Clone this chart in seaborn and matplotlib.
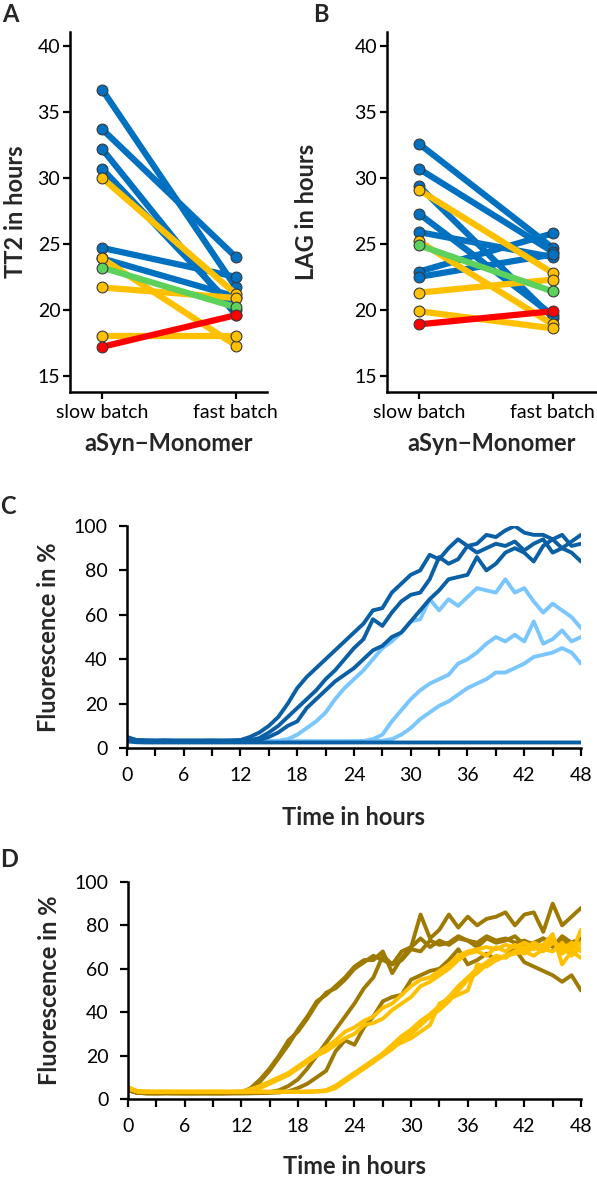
import numpy as np
import pandas as pd
import seaborn as sns
import matplotlib.pyplot as plt

# ---- Panel A / B: paired samples, slow batch -> fast batch ----
tt2_slow = [36.7, 33.7, 32.2, 30.7, 24.7, 23.9, 30.0, 23.9, 21.7, 18.0, 23.2, 17.2]
tt2_fast = [21.7, 24.0, 19.6, 20.0, 22.5, 21.0, 21.2, 17.3, 20.9, 18.0, 20.2, 19.6]
tt2_group = ['blue', 'blue', 'blue', 'blue', 'blue', 'blue',
             'yellow', 'yellow', 'yellow', 'yellow', 'green', 'red']

lag_slow = [32.6, 30.7, 29.4, 27.3, 25.9, 22.9, 22.5, 29.1, 25.2, 21.3, 19.9, 24.9, 18.9]
lag_fast = [24.7, 24.4, 19.4, 19.6, 24.0, 25.8, 24.2, 22.8, 18.9, 22.3, 18.6, 21.4, 19.9]
lag_group = ['blue', 'blue', 'blue', 'blue', 'blue', 'blue', 'blue',
             'yellow', 'yellow', 'yellow', 'yellow', 'green', 'red']

batch_labels = ['slow batch', 'fast batch']
group_colors = {'blue': '#0070C0', 'yellow': '#FFC000', 'green': '#5CD25C', 'red': '#FF0000'}

# ---- Panel C / D: fluorescence kinetics, hourly ----
hours = np.arange(0, 49)

c_dark1 = [5.0, 3.6, 3.4, 3.3, 3.4, 3.3, 3.3, 3.3, 3.3, 3.4, 3.3, 3.4, 3.6,
           5, 7, 10, 14, 20, 27, 32, 36, 40, 44, 48, 52, 56, 62, 63, 70, 74,
           78, 80, 87, 85, 90, 94, 91, 92, 96, 95, 98, 100, 97, 96, 96, 94, 96, 91, 92]
c_dark2 = [4.6, 3.5, 3.4, 3.3, 3.4, 3.3, 3.3, 3.3, 3.3, 3.3, 3.3, 3.3, 3.4, 3.5,
           4.5, 7, 10, 14, 18, 22, 26, 31, 35, 40, 45, 49, 58, 55, 61, 66,
           69, 70, 76, 86, 83, 85, 91, 88, 90, 92, 91, 93, 89, 92, 94, 88, 90, 93, 96]
c_dark3 = [4.4, 3.4, 3.3, 3.3, 3.3, 3.3, 3.3, 3.3, 3.3, 3.3, 3.3, 3.3, 3.3, 3.4, 3.6,
           5, 7, 10, 12, 18, 22, 26, 30, 33, 36, 40, 44, 46, 50, 52,
           57, 62, 67, 71, 76, 77, 78, 86, 80, 83, 88, 90, 88, 84, 91, 94, 90, 88, 84]
c_light1 = [4.0, 3.2, 3.1, 3.1, 3.1, 3.1, 3.1, 3.1, 3.1, 3.1, 3.1, 3.1, 3.1, 3.1, 3.1, 3.2, 3.3,
            4, 6, 9, 12, 16, 22, 27, 31, 35, 40, 45, 48, 52, 57, 58, 67, 62, 67, 64,
            68, 72, 71, 70, 76, 70, 72, 66, 61, 65, 62, 59, 54]
c_light2 = [3.8, 3.0, 3.0, 3.0, 3.0, 3.0, 3.0, 3.0, 3.0, 3.0, 3.0, 3.0, 3.0, 3.0, 3.0, 3.0,
            3.0, 3.0, 3.0, 3.0, 3.0, 3.0, 3.0, 3.0, 3.1, 3.2,
            4, 6, 12, 17, 22, 26, 29, 31, 33, 38, 40, 43, 47, 50, 48, 51, 48, 57, 47, 49, 53, 48, 50]
c_light3 = [3.8, 3.0, 3.0, 3.0, 3.0, 3.0, 3.0, 3.0, 3.0, 3.0, 3.0, 3.0, 3.0, 3.0, 3.0, 3.0,
            3.0, 3.0, 3.0, 3.0, 3.0, 3.0, 3.0, 3.0, 3.0, 3.0, 3.1, 3.3,
            4, 6, 9, 13, 16, 19, 21, 24, 27, 29, 31, 34, 34, 36, 38, 41, 42, 43, 45, 43, 38]
c_flat = [3.0, 2.6, 2.5, 2.5, 2.5, 2.5, 2.5, 2.5, 2.5, 2.5, 2.5, 2.5, 2.5, 2.5, 2.5, 2.5, 2.5,
          2.5, 2.5, 2.5, 2.5, 2.5, 2.5, 2.5, 2.5, 2.5, 2.5, 2.5, 2.5, 2.5, 2.5, 2.5, 2.5,
          2.5, 2.5, 2.5, 2.5, 2.5, 2.5, 2.5, 2.5, 2.5, 2.5, 2.5, 2.5, 2.5, 2.5, 2.5, 2.5]

d_dark1 = [4.0, 2.8, 2.6, 2.6, 2.7, 2.6, 2.6, 2.6, 2.6, 2.6, 2.6, 2.7,
           3, 5, 9, 14, 20, 27, 31, 37, 44, 49, 51, 55, 60, 63, 66, 64, 62, 68,
           70, 74, 70, 73, 71, 74, 73, 72, 75, 73, 74, 72, 73, 71, 74, 72, 73, 71, 72]
d_dark2 = [4.2, 2.9, 2.7, 2.6, 2.7, 2.7, 2.6, 2.6, 2.7, 2.6, 2.6, 2.7,
           3, 4.5, 8, 13, 19, 25, 32, 38, 45, 48, 52, 56, 61, 64, 64, 68, 58, 65,
           70, 85, 74, 78, 85, 79, 84, 80, 83, 84, 86, 80, 85, 86, 77, 90, 80, 84, 88]
d_dark3 = [4.0, 2.8, 2.6, 2.6, 2.6, 2.6, 2.6, 2.6, 2.6, 2.6, 2.6, 2.6, 2.6, 2.7, 2.8,
           3.2, 4, 6, 9, 14, 20, 26, 32, 38, 44, 51, 56, 66, 62, 64,
           69, 68, 73, 71, 72, 75, 73, 70, 74, 72, 73, 75, 71, 72, 74, 70, 75, 72, 74]
d_dark4 = [4.0, 2.8, 2.6, 2.6, 2.6, 2.6, 2.6, 2.6, 2.6, 2.6, 2.6, 2.6, 2.6, 2.6, 2.7, 2.8, 3.0,
           3.5, 5, 7, 10, 13, 22, 27, 25, 33, 38, 45, 47, 48, 55, 57, 59, 60, 64, 69,
           62, 64, 67, 64, 66, 69, 63, 61, 59, 57, 54, 57, 50]
d_yel1 = [5.5, 3.6, 3.4, 3.3, 3.4, 3.3, 3.3, 3.3, 3.3, 3.4, 3.3, 3.3,
          3.5, 4.5, 6, 8, 10, 12, 15, 18, 21, 24, 27, 31, 33, 36, 38, 42, 44, 48,
          52, 55, 56, 59, 62, 66, 68, 69, 70, 69, 71, 70, 72, 70, 71, 73, 69, 72, 68]
d_yel2 = [5.2, 3.5, 3.3, 3.3, 3.3, 3.3, 3.3, 3.3, 3.3, 3.3, 3.3, 3.3,
          3.3, 4, 5, 7, 9, 11, 14, 17, 20, 22, 25, 28, 30, 34, 35, 37, 41, 44,
          47, 52, 54, 57, 60, 64, 67, 68, 66, 70, 68, 71, 69, 72, 70, 74, 67, 70, 72]
d_yel3 = [5.0, 3.5, 3.3, 3.3, 3.3, 3.3, 3.3, 3.3, 3.3, 3.3, 3.3, 3.3, 3.3, 3.3, 3.3, 3.3,
          3.3, 3.3, 3.3, 3.4,
          3.6, 4, 6, 9, 12, 14, 17, 20, 23, 27, 30, 34, 38, 41, 45, 50, 55, 58, 62, 64,
          66, 67, 68, 66, 69, 68, 72, 67, 78]
d_yel4 = [5.0, 3.5, 3.3, 3.3, 3.3, 3.3, 3.3, 3.3, 3.3, 3.3, 3.3, 3.3, 3.3, 3.3, 3.3, 3.3,
          3.3, 3.3, 3.3, 3.3, 3.4,
          3.6, 5, 8, 11, 14, 17, 21, 25, 29, 32, 36, 39, 43, 47, 52, 56, 60, 63, 66,
          65, 68, 70, 69, 71, 76, 62, 68, 65]
d_yel5 = [4.8, 3.4, 3.3, 3.3, 3.3, 3.3, 3.3, 3.3, 3.3, 3.3, 3.3, 3.3, 3.3, 3.3, 3.3, 3.3,
          3.3, 3.3, 3.3, 3.3, 3.4,
          4, 6, 9, 12, 15, 18, 21, 24, 26, 28, 31, 34, 44, 46, 48, 50, 62, 61, 64,
          66, 68, 67, 70, 68, 72, 70, 66, 70]

c_light, c_dark = '#7AC6FF', '#0A5FA5'
d_dark, d_light = '#9E7A00', '#FFC000'

sns.set_style('ticks')
plt.rcParams['font.family'] = ['Lato', 'DejaVu Sans']
plt.rcParams['axes.linewidth'] = 1.8
plt.rcParams['axes.edgecolor'] = 'black'

TICK_SIZE = 14
LABEL_SIZE = 17


def paired_frame(slow, fast, groups):
    rows = []
    for i, (s, f, g) in enumerate(zip(slow, fast, groups)):
        rows.append({'sample': f's{i}', 'batch': 0, 'value': s, 'group': g})
        rows.append({'sample': f's{i}', 'batch': 1, 'value': f, 'group': g})
    return pd.DataFrame(rows)


def curve_frame(curves):
    parts = []
    for name, vals in curves.items():
        parts.append(pd.DataFrame({'time': hours, 'value': vals, 'curve': name}))
    return pd.concat(parts, ignore_index=True)


def draw_paired(ax, slow, fast, groups, ylabel, xmax):
    df = paired_frame(slow, fast, groups)
    pal = {f's{i}': group_colors[g] for i, g in enumerate(groups)}
    sns.lineplot(data=df, x='batch', y='value', hue='sample', palette=pal,
                 estimator=None, sort=False, legend=False, ax=ax,
                 linewidth=4.5, marker='o', markersize=7.8,
                 markeredgecolor='#3a3a3a', markeredgewidth=0.8)
    ax.set_xlim(-0.24, xmax)
    ax.set_ylim(13.8, 41.06)
    ax.set_yticks([15, 20, 25, 30, 35, 40])
    ax.set_xticks([0, 1])
    ax.set_xticklabels(batch_labels)
    ax.tick_params(axis='both', labelsize=TICK_SIZE, length=5, width=1.6, pad=2, colors='black')
    ax.tick_params(axis='x', pad=4)
    ax.set_xlabel('aSyn\u2212Monomer', fontsize=LABEL_SIZE, fontweight='bold')
    ax.set_ylabel(ylabel, fontsize=LABEL_SIZE, fontweight='bold')
    sns.despine(ax=ax)


def draw_kinetics(ax, curves, palette):
    df = curve_frame(curves)
    sns.lineplot(data=df, x='time', y='value', hue='curve', palette=palette,
                 estimator=None, legend=False, ax=ax, linewidth=2.8)
    ax.set_xlim(0, 48)
    ax.set_ylim(0, 100)
    ax.set_xticks(range(0, 49, 3))
    ax.set_xticklabels([str(t) if t % 6 == 0 else '' for t in range(0, 49, 3)])
    ax.set_yticks(range(0, 101, 20))
    ax.tick_params(axis='both', labelsize=TICK_SIZE, length=6, width=1.6, colors='black')
    ax.tick_params(axis='x', pad=8)
    ax.tick_params(axis='y', pad=8)
    ax.set_xlabel('Time in hours', fontsize=LABEL_SIZE, fontweight='bold')
    ax.set_ylabel('Fluorescence in %', fontsize=LABEL_SIZE, fontweight='bold')
    sns.despine(ax=ax)


fig = plt.figure(figsize=(5.97, 11.78), dpi=100)
ax_a = fig.add_axes([0.1173, 0.6675, 0.3293, 0.3053])
ax_b = fig.add_axes([0.6477, 0.6675, 0.3500, 0.3053])
ax_c = fig.add_axes([0.2127, 0.3650, 0.7605, 0.1885])
ax_d = fig.add_axes([0.2144, 0.0671, 0.7588, 0.1842])

draw_paired(ax_a, tt2_slow, tt2_fast, tt2_group, 'TT2 in hours', 1.23)
draw_paired(ax_b, lag_slow, lag_fast, lag_group, 'LAG in hours', 1.32)
ax_a.xaxis.set_label_coords(0.5, -0.112)
ax_b.xaxis.set_label_coords(0.5, -0.112)
ax_a.yaxis.set_label_coords(-0.22, 0.5)
ax_b.yaxis.set_label_coords(-0.33, 0.5)

draw_kinetics(ax_c, {'l1': c_light1, 'l2': c_light2, 'l3': c_light3,
                     'k1': c_dark1, 'k2': c_dark2, 'k3': c_dark3, 'k0': c_flat},
              {'l1': c_light, 'l2': c_light, 'l3': c_light,
               'k1': c_dark, 'k2': c_dark, 'k3': c_dark, 'k0': c_dark})
draw_kinetics(ax_d, {'k1': d_dark1, 'k2': d_dark2, 'k3': d_dark3, 'k4': d_dark4,
                     'y1': d_yel1, 'y2': d_yel2, 'y3': d_yel3, 'y4': d_yel4, 'y5': d_yel5},
              {'k1': d_dark, 'k2': d_dark, 'k3': d_dark, 'k4': d_dark,
               'y1': d_light, 'y2': d_light, 'y3': d_light, 'y4': d_light, 'y5': d_light})
for ax in (ax_c, ax_d):
    ax.xaxis.set_label_coords(0.5, -0.26)
    ax.yaxis.set_label_coords(-0.148, 0.5)

fig.text(0.003, 0.988, 'A', fontsize=17, fontweight='bold', va='center')
fig.text(0.525, 0.988, 'B', fontsize=17, fontweight='bold', va='center')
fig.text(0.000, 0.570, 'C', fontsize=17, fontweight='bold', va='center')
fig.text(0.000, 0.270, 'D', fontsize=17, fontweight='bold', va='center')

fig.savefig('out.png', dpi=100)
